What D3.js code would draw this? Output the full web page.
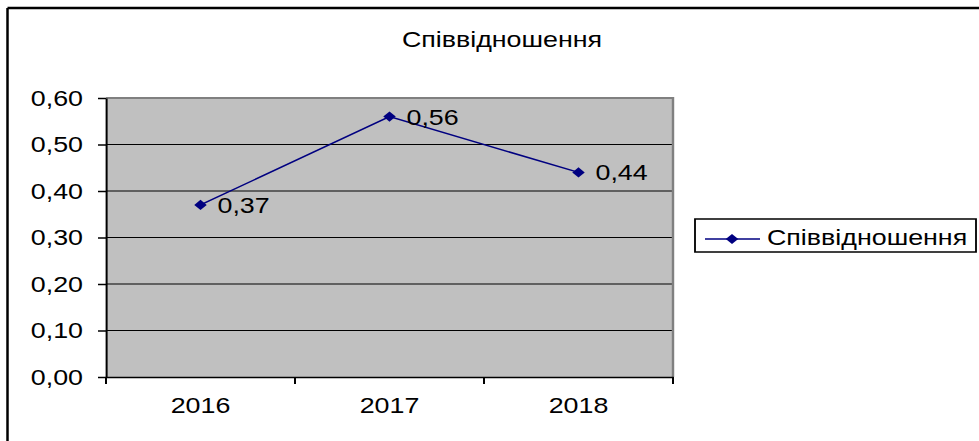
<!DOCTYPE html>
<html>
<head>
<meta charset="utf-8">
<script src="https://cdn.jsdelivr.net/npm/d3@7"></script>
<style>
  html, body { margin: 0; padding: 0; background: #fff; }
  svg { display: block; }
  text { font-family: "Liberation Sans", Arial, sans-serif; fill: #000; }
</style>
</head>
<body>
<svg id="chart"></svg>
<script>
// Data
const categories = ["2016", "2017", "2018"];
const ratioValues = [0.37, 0.56, 0.44];
const yTickValues = [0, 0.1, 0.2, 0.3, 0.4, 0.5, 0.6];
const seriesName = "Співвідношення";
const chartTitle = "Співвідношення";

// Canvas: drawn in a narrower user space and stretched horizontally
const pixelW = 979, pixelH = 441;
const sx = 1.22;
const W = pixelW / sx, H = pixelH;

const svg = d3.select("#chart")
  .attr("width", pixelW)
  .attr("height", pixelH)
  .attr("viewBox", `0 0 ${W} ${H}`)
  .attr("preserveAspectRatio", "none");

const fontSize = 22;
const plot = { left: 106 / sx, right: 673 / sx, top: 98, bottom: 377 };

// Outer frame (top and left edges)
svg.append("line")
  .attr("x1", 7.5 / sx).attr("x2", W).attr("y1", 8).attr("y2", 8)
  .attr("stroke", "#000").attr("stroke-width", 2.5);
svg.append("line")
  .attr("x1", 7.5 / sx).attr("x2", 7.5 / sx).attr("y1", 8).attr("y2", H)
  .attr("stroke", "#000").attr("stroke-width", 2.5 / sx);

// Scales
const x = d3.scaleBand().domain(categories).range([plot.left, plot.right]).padding(0);
const y = d3.scaleLinear().domain([0, 0.6]).range([plot.bottom, plot.top]);

// Plot background
svg.append("rect")
  .attr("x", plot.left).attr("y", plot.top)
  .attr("width", plot.right - plot.left).attr("height", plot.bottom - plot.top)
  .attr("fill", "#c0c0c0");

// Horizontal gridlines
svg.append("g").selectAll("line")
  .data(yTickValues.filter(v => v > 0 && v < 0.6))
  .join("line")
  .attr("x1", plot.left).attr("x2", plot.right)
  .attr("y1", d => y(d)).attr("y2", d => y(d))
  .attr("stroke", "#000").attr("stroke-width", 1.2);

// Plot border (top and right)
svg.append("path")
  .attr("d", `M${plot.left},${plot.top}H${plot.right}V${plot.bottom}`)
  .attr("fill", "none").attr("stroke", "#808080").attr("stroke-width", 2);

// Y axis
const fmt = v => d3.format(".2f")(v).replace(".", ",");
const yAxis = svg.append("g")
  .attr("transform", `translate(${plot.left},0)`)
  .call(d3.axisLeft(y).tickValues(yTickValues).tickFormat(fmt)
    .tickSize(8 / sx).tickPadding(15 / sx).tickSizeOuter(0));
yAxis.select(".domain").attr("stroke", "#000").attr("stroke-width", 2 / sx);
yAxis.selectAll(".tick line").attr("stroke", "#000").attr("stroke-width", 1.5);
yAxis.selectAll(".tick text")
  .attr("font-size", fontSize)
  .attr("font-family", "Liberation Sans, Arial, sans-serif")
  .attr("fill", "#000");

// X axis: labels at category centres, tick marks at category boundaries
const xAxis = svg.append("g")
  .attr("transform", `translate(0,${plot.bottom})`)
  .call(d3.axisBottom(x).tickSize(0).tickPadding(20));
xAxis.select(".domain").attr("stroke", "#000").attr("stroke-width", 1.5);
xAxis.selectAll(".tick text")
  .attr("font-size", fontSize)
  .attr("font-family", "Liberation Sans, Arial, sans-serif")
  .attr("fill", "#000");

const boundaries = categories.map(c => x(c)).concat([x(categories[categories.length - 1]) + x.bandwidth()]);
svg.append("g").selectAll("line")
  .data(boundaries)
  .join("line")
  .attr("x1", d => d).attr("x2", d => d)
  .attr("y1", plot.bottom).attr("y2", plot.bottom + 7)
  .attr("stroke", "#000").attr("stroke-width", 2 / sx);

// Series line
const pts = categories.map((c, i) => ({ c, v: ratioValues[i] }));
const lineGen = d3.line().x(d => x(d.c) + x.bandwidth() / 2).y(d => y(d.v));
svg.append("path")
  .datum(pts)
  .attr("d", lineGen)
  .attr("fill", "none").attr("stroke", "#000080").attr("stroke-width", 1.5);

// Diamond markers
const diamond = d3.symbol(d3.symbolSquare, 52);
svg.append("g").selectAll("path")
  .data(pts)
  .join("path")
  .attr("d", diamond)
  .attr("transform", d => `translate(${x(d.c) + x.bandwidth() / 2},${y(d.v)}) rotate(45)`)
  .attr("fill", "#000080");

// Value labels
svg.append("g").selectAll("text")
  .data(pts)
  .join("text")
  .attr("x", d => x(d.c) + x.bandwidth() / 2 + 17 / sx)
  .attr("y", d => y(d.v))
  .attr("dy", "0.36em")
  .attr("font-size", fontSize)
  .text(d => fmt(d.v));

// Title
svg.append("text")
  .attr("x", 502 / sx).attr("y", 47)
  .attr("text-anchor", "middle")
  .attr("font-size", fontSize)
  .text(chartTitle);

// Legend
const lg = svg.append("g");
lg.append("rect")
  .attr("x", 695 / sx).attr("y", 219)
  .attr("width", (976 - 695) / sx).attr("height", 33)
  .attr("fill", "#fff").attr("stroke", "#000").attr("stroke-width", 1.5);
lg.append("line")
  .attr("x1", 705 / sx).attr("x2", 760 / sx).attr("y1", 239).attr("y2", 239)
  .attr("stroke", "#000080").attr("stroke-width", 1.5);
lg.append("path")
  .attr("d", diamond)
  .attr("transform", `translate(${732 / sx},239) rotate(45)`)
  .attr("fill", "#000080");
lg.append("text")
  .attr("x", 767 / sx).attr("y", 245)
  .attr("font-size", fontSize)
  .text(seriesName);
</script>
</body>
</html>
